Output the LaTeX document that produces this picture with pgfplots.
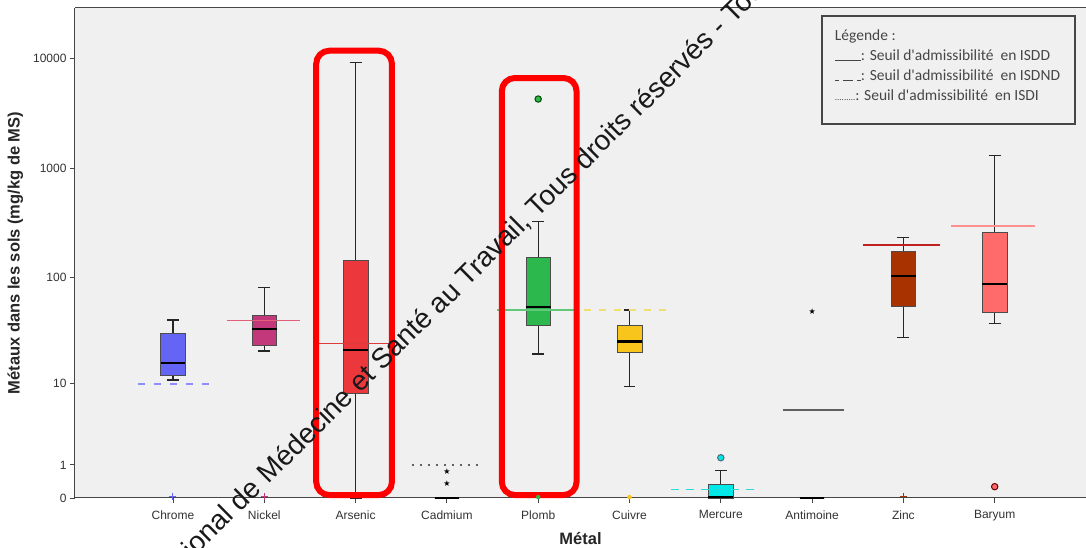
\documentclass[border=0pt]{standalone}
\usepackage{pgfplots}
\pgfplotsset{compat=1.18}
\usepgfplotslibrary{statistics}
\usepackage{fontspec}
\setmainfont{Liberation Sans}
\newfontfamily\carlito{Carlito}
\newfontfamily\dejavu{DejaVu Sans}
\definecolor{bgcol}{RGB}{240,240,240}
\definecolor{framecol}{RGB}{70,70,70}
\definecolor{tickcol}{RGB}{50,50,50}
\definecolor{cChrome}{RGB}{100,100,245}
\definecolor{tChrome}{RGB}{140,140,255}
\definecolor{cNickel}{RGB}{194,56,122}
\definecolor{tNickel}{RGB}{224,96,122}
\definecolor{cArsenic}{RGB}{236,56,60}
\definecolor{tArsenic}{RGB}{220,60,60}
\definecolor{cPlomb}{RGB}{45,184,77}
\definecolor{tPlomb}{RGB}{96,200,120}
\definecolor{cCuivre}{RGB}{248,197,28}
\definecolor{tCuivre}{RGB}{240,224,112}
\definecolor{cMercure}{RGB}{0,232,232}
\definecolor{tMercure}{RGB}{40,220,220}
\definecolor{cZinc}{RGB}{168,50,0}
\definecolor{tZinc}{RGB}{192,32,32}
\definecolor{cBaryum}{RGB}{255,107,107}
\definecolor{tBaryum}{RGB}{255,144,144}
\definecolor{tGris}{RGB}{96,96,96}
\definecolor{legtext}{RGB}{70,70,70}
\begin{document}
\begin{tikzpicture}
\begin{axis}[
  name=ax,
  scale only axis, width=1011pt, height=490pt,
  xmin=-1.073, xmax=10.0, ymin=0, ymax=4.4545,
  axis x line*=box, axis y line*=left,
  xtick pos=bottom, ytick pos=left,
  axis line style={draw=framecol, line width=1pt},
  tick align=outside, major tick length=5pt,
  tick style={draw=framecol, line width=0.8pt},
  xtick={0,1,2,3,4,5,6,7,8,9},
  xticklabels={Chrome,Nickel,Arsenic,Cadmium,Plomb,Cuivre,Mercure,Antimoine,Zinc,Baryum},
  ytick={0,0.30103,1.04139,2.00432,3.00043,4.00004},
  yticklabels={0,1,10,100,1000,10000},
  ticklabel style={font=\fontsize{12}{14}\selectfont, text=tickcol},
  xticklabel style={yshift=-4pt},
  xlabel={Métal}, ylabel={Métaux dans les sols (mg/kg de MS)},
  label style={font=\bfseries\fontsize{16.5}{18}\selectfont, text=black!85},
  xlabel style={yshift=-4pt},
  ylabel shift=3pt,
  axis background/.style={fill=bgcol},
  clip=false,
  boxplot/draw direction=y,
  boxplot/box extend=0.27, boxplot/whisker extend=0.13,
  boxplot/every median/.style={line width=2.4pt, draw=black},
  boxplot/every whisker/.style={line width=1.2pt, draw=black!85},
  boxplot/every box/.style={draw=black!70, line width=0.6pt},
]
% --- boxes (values in log10(1+x)) ---
\addplot[boxplot prepared={draw position=0, lower whisker=1.073, lower quartile=1.118, median=1.227, upper quartile=1.5, upper whisker=1.618}, fill=cChrome, draw=black!70] coordinates {};
\addplot[boxplot prepared={draw position=1, lower whisker=1.336, lower quartile=1.391, median=1.536, upper quartile=1.664, upper whisker=1.915}, fill=cNickel, draw=black!70] coordinates {};
\addplot[boxplot prepared={draw position=2, lower whisker=0, lower quartile=0.955, median=1.345, upper quartile=2.157, upper whisker=3.957}, fill=cArsenic, draw=black!70] coordinates {};
\addplot[boxplot prepared={draw position=3, lower whisker=0, lower quartile=0, median=0, upper quartile=0, upper whisker=0}, draw=black] coordinates {};
\addplot[boxplot prepared={draw position=4, lower whisker=1.309, lower quartile=1.566, median=1.739, upper quartile=2.188, upper whisker=2.512}, fill=cPlomb, draw=black!70] coordinates {};
\addplot[boxplot prepared={draw position=5, lower whisker=1.012, lower quartile=1.325, median=1.421, upper quartile=1.573, upper whisker=1.709}, fill=cCuivre, draw=black!70] coordinates {};
\addplot[boxplot prepared={draw position=6, lower whisker=0, lower quartile=0, median=0.008, upper quartile=0.125, upper whisker=0.248}, fill=cMercure, draw=black!70] coordinates {};
\addplot[boxplot prepared={draw position=7, lower whisker=0, lower quartile=0, median=0, upper quartile=0, upper whisker=0}, draw=black] coordinates {};
\addplot[boxplot prepared={draw position=8, lower whisker=1.457, lower quartile=1.739, median=2.018, upper quartile=2.245, upper whisker=2.37}, fill=cZinc, draw=black!70] coordinates {};
\addplot[boxplot prepared={draw position=9, lower whisker=1.585, lower quartile=1.688, median=1.945, upper quartile=2.415, upper whisker=3.112}, fill=cBaryum, draw=black!70] coordinates {};
% --- outliers ---
\addplot[only marks, mark=*, mark size=3.2pt, mark options={fill=cPlomb, draw=black!70!green, line width=1pt}] coordinates {(4,3.627)};
\addplot[only marks, mark=*, mark size=3.2pt, mark options={fill=cMercure, draw=black!60!cyan, line width=1pt}] coordinates {(6,0.366)};
\addplot[only marks, mark=*, mark size=3.2pt, mark options={fill=cBaryum, draw=black!60!red, line width=1pt}] coordinates {(9,0.103)};
\addplot[only marks, mark=text, text mark={\dejavu ★}, mark options={scale=0.8}] coordinates {(3,0.239) (3,0.134) (7,1.691)};
\addplot[only marks, mark=+, mark size=3.5pt, line width=1pt, cChrome] coordinates {(0,0.012)};
\addplot[only marks, mark=+, mark size=3.5pt, line width=1pt, cNickel] coordinates {(1,0.012)};
\addplot[only marks, mark=+, mark size=3.5pt, line width=1pt, cZinc] coordinates {(8,0.012)};
\addplot[only marks, mark=*, mark size=2pt, cPlomb] coordinates {(4,0.008)};
\addplot[only marks, mark=*, mark size=2pt, cCuivre] coordinates {(5,0.008)};
% --- thresholds ---
\addplot[tChrome, line width=1.6pt, dash pattern=on 7pt off 9pt] coordinates {(-0.38,1.036) (0.41,1.036)};
\addplot[tNickel, line width=1.1pt] coordinates {(0.59,1.613) (1.39,1.613)};
\addplot[tArsenic, line width=1.1pt] coordinates {(1.60,1.406) (2.37,1.406)};
\addplot[tGris, line width=1.4pt, dash pattern=on 2pt off 6pt] coordinates {(2.62,0.301) (3.37,0.301)};
\addplot[tPlomb, line width=1.1pt] coordinates {(3.55,1.709) (4.45,1.709)};
\addplot[tCuivre, line width=1.4pt, dash pattern=on 7pt off 8pt] coordinates {(4.5,1.709) (5.45,1.709)};
\addplot[tMercure, line width=1.6pt, dash pattern=on 8pt off 7pt] coordinates {(5.45,0.079) (6.4,0.079)};
\addplot[tGris, line width=1.5pt] coordinates {(6.68,0.80) (7.35,0.80)};
\addplot[tZinc, line width=1.6pt] coordinates {(7.56,2.30) (8.40,2.30)};
\addplot[tBaryum, line width=1.2pt] coordinates {(8.52,2.473) (9.44,2.473)};
% --- annotations ---
\draw[red, line width=6pt, rounded corners=13pt] (axis cs:1.569,0.027) rectangle (axis cs:2.398,4.066);
\draw[red, line width=6pt, rounded corners=13pt] (axis cs:3.602,0.027) rectangle (axis cs:4.420,3.818);
% --- legend box ---
\draw[line width=1.2pt, framecol] (axis cs:7.108,3.40) rectangle (axis cs:9.879,4.382);
\node[anchor=north west, align=left, inner sep=0pt, text=legtext, font=\carlito\fontsize{15.5}{20}\selectfont] at (axis cs:7.248,4.262)
 {Légende :\\
  \rule[-1pt]{26pt}{0.8pt}: Seuil d'admissibilité\ \ en ISDD\\
  \rule[-1pt]{4pt}{0.8pt}\hspace{4pt}\rule[-1pt]{10pt}{0.8pt}\hspace{4pt}\rule[-1pt]{4pt}{0.8pt}: Seuil d'admissibilité\ \ en ISDND\\
  {\fontsize{9}{10}\selectfont .........}: Seuil d'admissibilité\ \ en ISDI};
% --- watermark text ---
\node[anchor=base west, rotate=44.7, inner sep=0pt, font=\fontsize{28}{30}\selectfont, text=black!90] at (axis cs:1.045,0.12)
 {\llap{Institut National de\ }Médecine et Santé au Travail, Tous droits réservés - Toute reproduction interdite};
\end{axis}
\pgfresetboundingbox
\useasboundingbox ([xshift=-75pt,yshift=-50pt]ax.south west) rectangle ([yshift=8pt]ax.north east);
\end{tikzpicture}
\end{document}
